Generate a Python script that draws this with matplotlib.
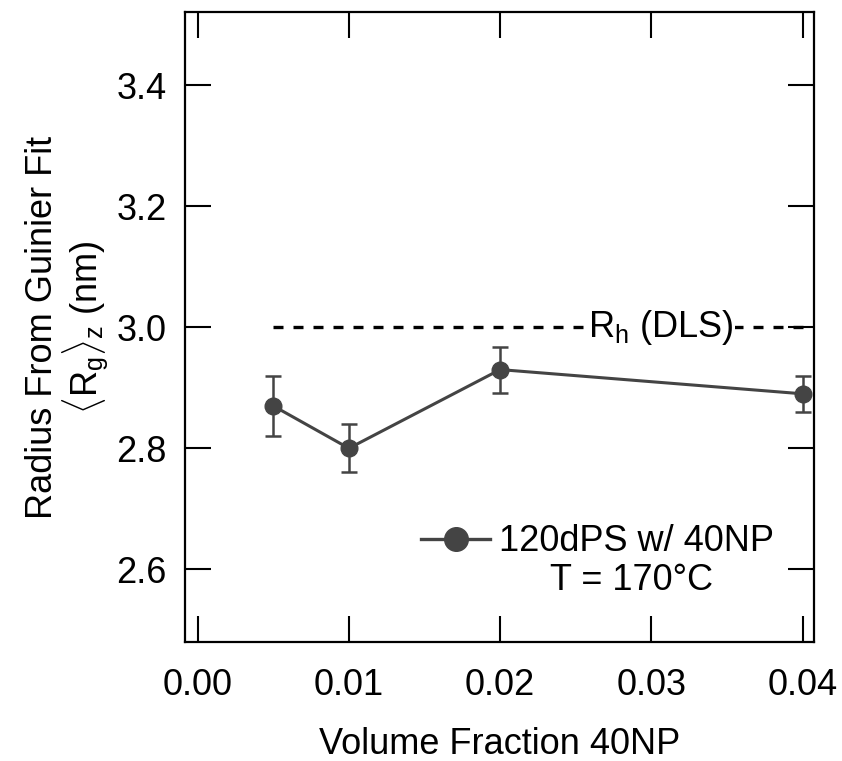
import matplotlib
matplotlib.use("Agg")
import matplotlib.pyplot as plt
from matplotlib.lines import Line2D

# 数据
vol_frac = [0.005, 0.01, 0.02, 0.04]
rg = [2.87, 2.80, 2.93, 2.89]
rg_err = [0.05, 0.04, 0.038, 0.03]
rh_dls = 3.0

x_ticks = [0.00, 0.01, 0.02, 0.03, 0.04]
y_ticks = [2.6, 2.8, 3.0, 3.2, 3.4]

GREY = "#444444"
FS = 26

plt.rcParams["font.family"] = ["Liberation Sans", "DejaVu Sans"]
plt.rcParams["mathtext.fontset"] = "custom"
plt.rcParams["mathtext.rm"] = "Liberation Sans"
plt.rcParams["mathtext.it"] = "Liberation Sans:italic"

fig = plt.figure(figsize=(8.42, 7.61), dpi=100)
ax = fig.add_axes([0.2197, 0.1564, 0.9667 - 0.2197, 0.9836 - 0.1564])

ax.errorbar(vol_frac, rg, yerr=rg_err, color=GREY, lw=2.2, marker="o",
            markersize=12, elinewidth=1.8, capsize=6, capthick=1.8,
            zorder=3)

ax.hlines(rh_dls, vol_frac[0], vol_frac[-1], colors="black", lw=2.4,
          linestyles=(0, (3.0, 3.0)), zorder=2)
ax.text(0.0306, rh_dls, r"R$_\mathrm{h}$ (DLS)", fontsize=FS, ha="center",
        va="center", bbox=dict(facecolor="white", edgecolor="none", pad=1),
        zorder=2.5)

ax.set_xlim(-0.00084, 0.04075)
ax.set_ylim(2.48, 3.52)
ax.set_xticks(x_ticks)
ax.set_xticklabels([f"{v:.2f}" for v in x_ticks])
ax.set_yticks(y_ticks)
ax.set_yticklabels([f"{v:.1f}" for v in y_ticks])

ax.tick_params(direction="in", length=19, width=1.5, labelsize=FS,
               top=True, right=True)
ax.tick_params(axis="x", pad=19)
ax.tick_params(axis="y", pad=13)
for s in ax.spines.values():
    s.set_linewidth(1.6)

ax.set_xlabel("Volume Fraction 40NP", fontsize=FS, labelpad=17)
ax.set_ylabel("Radius From Guinier Fit\n"
              r"$\langle\mathrm{R_g}\rangle_\mathrm{z}$ (nm)",
              fontsize=FS, labelpad=5, linespacing=1.0)

handle = Line2D([], [], color=GREY, lw=2.4, marker="o", markersize=17)
ax.legend([handle], ["120dPS w/ 40NP"], loc="center left",
          bbox_to_anchor=(0.376, 0.159), frameon=False, fontsize=FS,
          handlelength=1.9, handletextpad=0.25, borderpad=0, borderaxespad=0)
ax.text(0.71, 0.098, "T = 170°C", transform=ax.transAxes, fontsize=FS,
        ha="center", va="center")

fig.savefig("out.png", dpi=100)
